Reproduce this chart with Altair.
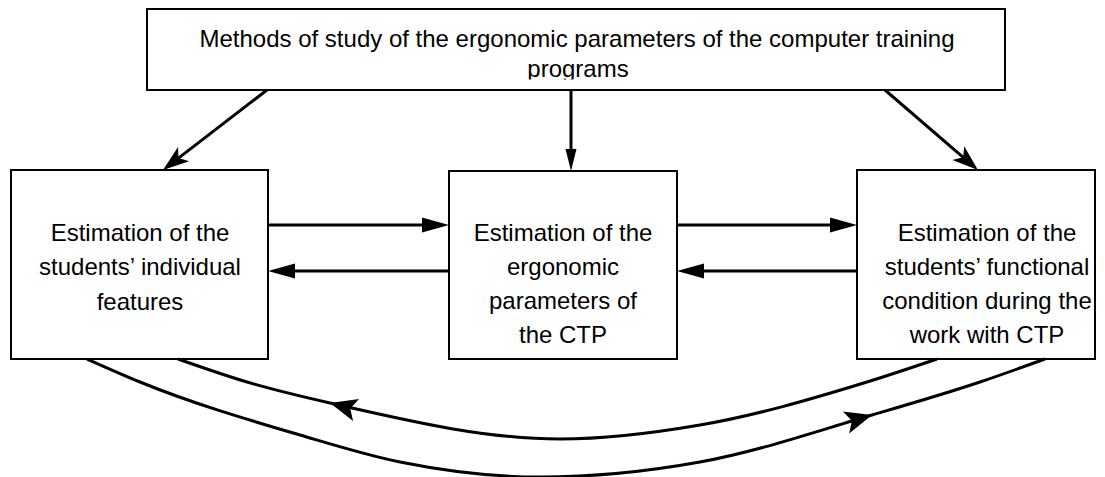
import math
import altair as alt
import pandas as pd

W, H = 1089, 461
X0, Y0 = 8, 8

# ---- boxes (pixel geometry of the diagram) ----
box_names = ["top", "left", "middle", "right"]
box_x1 = [147, 11, 449, 857]
box_x2 = [1005, 268, 677, 1095]
box_y1 = [7, 168, 169, 168]
box_y2 = [88, 357, 357, 357]

# ---- text lines ----
text_lines = [
    "Methods of study of the ergonomic parameters of the computer training",
    "programs",
    "Estimation of the", "students’ individual", "features",
    "Estimation of the", "ergonomic", "parameters of", "the CTP",
    "Estimation of the", "students’ functional", "condition during the", "work with CTP",
]
text_x = [577, 578, 140, 140, 140, 563, 563, 563, 563, 987, 987, 987, 987]
text_y = [45, 75, 239, 273, 308, 239, 273, 307, 341, 239, 273, 307, 341]

# ---- straight arrows ----
arrow_x1 = [268, 449, 677, 857, 267, 571, 885]
arrow_y1 = [223, 269, 223, 269, 88, 88, 88]
arrow_x2 = [449, 268, 857, 677, 163, 571, 978]
arrow_y2 = [223, 269, 223, 269, 168, 169, 168]
arrow_kind = ["plain", "plain", "plain", "plain", "stealth", "narrow", "stealth"]

# ---- curved connectors ----
inner_x = [178, 247, 330, 560, 700, 867, 937]
inner_y = [357, 380, 401, 437, 423, 380, 357]
outer_x = [87, 140, 300, 400, 540, 700, 872, 980, 1045]
outer_y = [357, 380, 433, 460, 475, 460, 413, 380, 357]
curve_head_x = [330, 872]
curve_head_y = [401, 413]
curve_head_angle = [195, 344]

head_len = {"plain": 27, "narrow": 22, "stealth": 26, "curve": 27}
head_back = {"plain": 0.95, "narrow": 0.95, "stealth": 0.75, "curve": 0.75}
head_path = {
    "plain": "M1,0L-1,-0.55L-1,0.55Z",
    "narrow": "M1,0L-1,-0.5L-1,0.5Z",
    "stealth": "M1,0L-1,-0.7L-0.5,0L-1,0.7Z",
    "curve": "M1,0L-1,-0.85L-0.55,0L-1,0.85Z",
}

xs = alt.Scale(domain=[X0, X0 + W], nice=False, zero=False)
ys = alt.Scale(domain=[Y0, Y0 + H], reverse=True, nice=False, zero=False)

boxes = pd.DataFrame({"name": box_names, "x1": box_x1, "x2": box_x2, "y1": box_y1, "y2": box_y2})
texts = pd.DataFrame({"t": text_lines, "x": text_x, "y": text_y})

lines_rows, head_rows = [], []
for x1, y1, x2, y2, k in zip(arrow_x1, arrow_y1, arrow_x2, arrow_y2, arrow_kind):
    dx, dy = x2 - x1, y2 - y1
    d = math.hypot(dx, dy)
    ux, uy = dx / d, dy / d
    L = head_len[k]
    lines_rows.append({"x": x1, "y": y1, "x2": x2 - ux * L * head_back[k], "y2": y2 - uy * L * head_back[k]})
    ang = math.degrees(math.atan2(dy, dx)) % 360
    head_rows.append({"x": x2 - ux * L / 2, "y": y2 - uy * L / 2, "angle": ang, "kind": k, "size": L * L})
for hx, hy, ha in zip(curve_head_x, curve_head_y, curve_head_angle):
    L = head_len["curve"]
    ux, uy = math.cos(math.radians(ha)), math.sin(math.radians(ha))
    head_rows.append({"x": hx - ux * L / 2, "y": hy - uy * L / 2, "angle": ha, "kind": "curve", "size": L * L})

lines_df = pd.DataFrame(lines_rows)
heads_df = pd.DataFrame(head_rows)
curves_df = pd.DataFrame(
    [{"c": "inner", "x": x, "y": y} for x, y in zip(inner_x, inner_y)]
    + [{"c": "outer", "x": x, "y": y} for x, y in zip(outer_x, outer_y)]
)

X = lambda f: alt.X(f, type="quantitative", scale=xs, axis=None)
Y = lambda f: alt.Y(f, type="quantitative", scale=ys, axis=None)

rects = alt.Chart(boxes).mark_rect(fill="white", stroke="black", strokeWidth=2).encode(
    x=X("x1"), x2="x2", y=Y("y1"), y2="y2"
)

text = alt.Chart(texts).mark_text(
    font="Liberation Sans", fontSize=24, baseline="alphabetic", align="center", color="black"
).encode(x=X("x"), y=Y("y"), text="t:N")

mask = alt.Chart(pd.DataFrame({"x1": [150], "x2": [1002], "y1": [77.5], "y2": [86]})).mark_rect(
    fill="white", strokeWidth=0
).encode(x=X("x1"), x2="x2", y=Y("y1"), y2="y2")

rules = alt.Chart(lines_df).mark_rule(color="black", strokeWidth=3).encode(
    x=X("x"), y=Y("y"), x2="x2", y2="y2"
)

curves = alt.Chart(curves_df).mark_line(color="black", strokeWidth=3, interpolate="monotone").encode(
    x=X("x"), y=Y("y"), detail="c:N", order="x:Q"
)

head_layers = []
for k, p in head_path.items():
    sub = heads_df[heads_df["kind"] == k]
    if len(sub) == 0:
        continue
    head_layers.append(
        alt.Chart(sub).mark_point(shape=p, filled=True, color="black", opacity=1, strokeWidth=0).encode(
            x=X("x"), y=Y("y"),
            angle=alt.Angle("angle:Q", scale=None),
            size=alt.Size("size:Q", scale=None, legend=None),
        )
    )

chart = alt.layer(rects, text, mask, rules, curves, *head_layers).properties(
    width=W, height=H, padding=0, background="white"
).configure_view(stroke=None)

chart.save("out.html", embed_options={"renderer": "svg", "actions": False})
